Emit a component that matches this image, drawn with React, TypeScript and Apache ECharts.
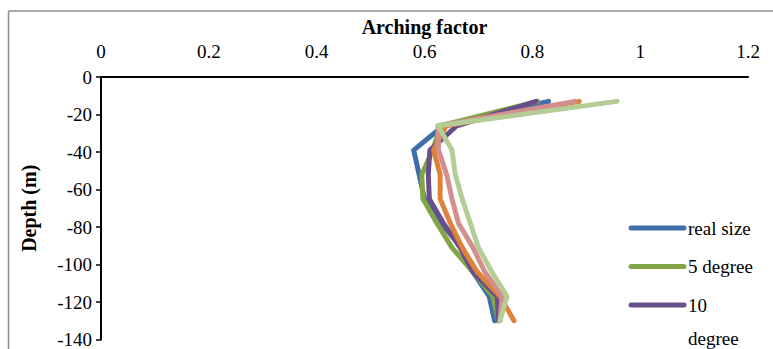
import React, { useEffect, useRef } from "react";
import * as echarts from "echarts";

const depths = [-13, -26, -39, -52, -65, -78, -91, -104, -117, -130];
const seriesNames = ["real size", "5 degree", "10 degree", "15 degree", "20 degree", "25 degree"];
const realSize = [0.83, 0.635, 0.58, 0.59, 0.6, 0.63, 0.67, 0.69, 0.72, 0.73];
const deg5 = [0.81, 0.63, 0.615, 0.595, 0.597, 0.623, 0.651, 0.69, 0.727, 0.737];
const deg10 = [0.807, 0.66, 0.61, 0.607, 0.609, 0.635, 0.666, 0.69, 0.735, 0.737];
const deg15 = [0.887, 0.64, 0.617, 0.629, 0.629, 0.648, 0.67, 0.698, 0.74, 0.766];
const deg20 = [0.879, 0.625, 0.626, 0.641, 0.651, 0.663, 0.69, 0.712, 0.744, 0.74];
const deg25 = [0.957, 0.625, 0.651, 0.657, 0.67, 0.685, 0.7, 0.725, 0.753, 0.74];
const allValues = [realSize, deg5, deg10, deg15, deg20, deg25];
const colors = ["#3F6EA9", "#82A647", "#684F8C", "#E0813A", "#D48F8C", "#B4CC96"];
const xTicks = [0, 0.2, 0.4, 0.6, 0.8, 1, 1.2];
const yTicks = [0, -20, -40, -60, -80, -100, -120, -140];

const FONT = "Liberation Serif";

export default function App() {
  const ref = useRef<HTMLDivElement>(null);
  useEffect(() => {
    document.body.style.margin = "0";
    document.body.style.overflow = "hidden";
    const chart = echarts.init(ref.current!, null, { renderer: "svg" });

    const cvs = document.createElement("canvas");
    const ctx = cvs.getContext("2d")!;
    ctx.font = `19px ${FONT}`;

    const legendTop = 228;
    const legendGap = 38.5;
    const lineH = 33;
    const legendGraphics: any[] = [];
    let ly = legendTop;
    seriesNames.forEach((name, i) => {
      if (ly - 16 > 349) return;
      const lines = ctx.measureText(name).width > 72 ? 2 : 1;
      legendGraphics.push({
        type: "line",
        shape: { x1: 631, y1: ly, x2: 684, y2: ly },
        style: { stroke: colors[i], lineWidth: 5, lineCap: "round" },
        silent: true,
      });
      legendGraphics.push({
        type: "text",
        x: 688,
        y: ly - lineH / 2,
        style: {
          text: lines === 2 ? name.replace(" ", "\n") : name,
          fontFamily: FONT,
          fontSize: 19,
          fill: "#000",
          lineHeight: lineH,
          verticalAlign: "top",
          align: "left",
        },
        silent: true,
      });
      ly += legendGap + (lines - 1) * lineH;
    });

    chart.setOption({
      animation: false,
      backgroundColor: "#fff",
      grid: { left: 101, top: 77, width: 647, height: 263, containLabel: false },
      xAxis: {
        type: "value",
        position: "top",
        min: xTicks[0],
        max: xTicks[xTicks.length - 1],
        interval: 0.2,
        name: "Arching factor",
        nameLocation: "middle",
        nameGap: 38,
        nameTextStyle: { fontFamily: FONT, fontSize: 20, fontWeight: "bold", color: "#000" },
        axisLine: { show: true, onZero: false, lineStyle: { color: "#000", width: 2 } },
        axisTick: { show: false },
        axisLabel: {
          fontFamily: FONT,
          fontSize: 19,
          color: "#000",
          margin: 16,
          formatter: (v: number) => String(+v.toFixed(1)),
        },
        splitLine: { show: false },
      },
      yAxis: {
        type: "value",
        min: yTicks[yTicks.length - 1],
        max: yTicks[0],
        interval: 20,
        name: "Depth (m)",
        nameLocation: "middle",
        nameGap: 62,
        nameRotate: 90,
        nameTextStyle: { fontFamily: FONT, fontSize: 20, fontWeight: "bold", color: "#000" },
        axisLine: { show: true, onZero: false, lineStyle: { color: "#000", width: 2 } },
        axisTick: { show: true, inside: false, length: 5, lineStyle: { color: "#000", width: 1.5 } },
        axisLabel: { fontFamily: FONT, fontSize: 19, color: "#000", margin: 9 },
        splitLine: { show: false },
      },
      series: allValues.map((vals, i) => ({
        name: seriesNames[i],
        type: "line",
        data: vals.map((v, j) => [v, depths[j]]),
        showSymbol: false,
        symbol: "none",
        lineStyle: { color: colors[i], width: 5, cap: "round", join: "round" },
        itemStyle: { color: colors[i] },
        z: 2 + i,
      })),
      graphic: [
        {
          type: "line",
          shape: { x1: 8.5, y1: 11, x2: 773, y2: 11 },
          style: { stroke: "#8c8c8c", lineWidth: 1.5 },
          silent: true,
        },
        {
          type: "line",
          shape: { x1: 8.5, y1: 11, x2: 8.5, y2: 349 },
          style: { stroke: "#8c8c8c", lineWidth: 1.5 },
          silent: true,
        },
        ...legendGraphics,
      ],
    });
    return () => chart.dispose();
  }, []);
  return <div ref={ref} style={{ width: 773, height: 349 }} />;
}
